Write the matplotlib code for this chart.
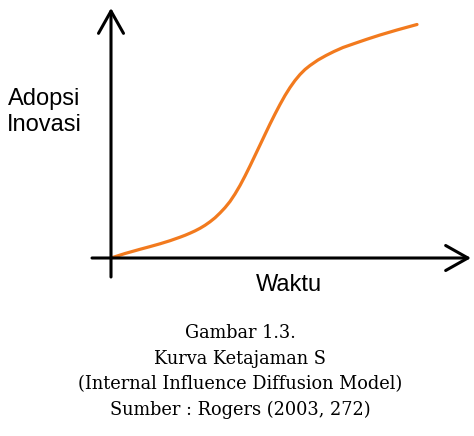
import matplotlib
matplotlib.use("Agg")
import matplotlib.pyplot as plt

# S-curve data (time, adoption %)
time = [0.0, 0.467, 0.967, 1.3, 1.633, 1.967, 2.3, 2.467, 2.633, 2.8, 2.967, 3.133, 3.3,
        3.467, 3.633, 3.8, 3.967, 4.133, 4.3, 4.467, 4.633, 4.8, 4.967, 5.133, 5.3,
        5.467, 5.633, 5.8, 5.967, 6.133, 6.3, 6.467, 6.633, 6.9, 7.167, 7.433, 7.733,
        8.133, 8.533, 8.967, 9.533, 10.2]
adoption = [0.0, 1.92, 3.72, 4.87, 6.07, 7.39, 8.89, 9.70, 10.60, 11.58, 12.69, 13.97,
            15.47, 17.18, 19.23, 21.50, 24.15, 27.35, 30.98, 35.04, 39.32, 43.80, 48.29,
            52.78, 57.26, 61.54, 65.60, 69.44, 72.86, 75.85, 78.42, 80.56, 82.26, 84.62,
            86.54, 88.25, 89.96, 91.75, 93.50, 95.30, 97.44, 99.79]

xlabel = "Waktu"
ylabel = "Adopsi\nInovasi"
caption = ["Gambar 1.3.", "Kurva Ketajaman S",
           "(Internal Influence Diffusion Model)", "Sumber : Rogers (2003, 272)"]

W, H = 474, 436
fig = plt.figure(figsize=(W / 100, H / 100), dpi=100)
ax = fig.add_axes([0, 0, 1, 1])
sx, sy = 30.0, 2.34
x0, y0 = 111, 258
ax.set_xlim(-x0 / sx, (W - x0) / sx)
ax.set_ylim((y0 - H) / sy, y0 / sy)
ax.axis("off")

ax.plot(time, adoption, color="#F27A1E", lw=2.3, solid_capstyle="round",
        solid_joinstyle="round", zorder=3)

arrow_kw = dict(arrowstyle="->,head_length=0.8,head_width=0.45", lw=2.2,
                color="black", mutation_scale=20, shrinkA=0, shrinkB=0)
# vertical axis
ax.annotate("", xy=(0, (y0 - 8) / sy), xytext=(0, (y0 - 277) / sy), arrowprops=arrow_kw)
# horizontal axis
ax.annotate("", xy=((471 - x0) / sx, 0), xytext=((92 - x0) / sx, 0), arrowprops=arrow_kw)

sans = ["Liberation Sans", "DejaVu Sans"]
ax.text(-(x0 - 44) / sx, (y0 - 112) / sy, ylabel, ha="center", va="center",
        fontsize=17, family=sans, linespacing=1.2)
ax.text((289 - x0) / sx, (y0 - 285) / sy, xlabel, ha="center", va="center",
        fontsize=17, family=sans)

serif = ["DejaVu Serif"]
baselines = [338, 363.5, 389, 414.5]
for line, b in zip(caption, baselines):
    fig.text(240 / W, 1 - b / H, line, ha="center", va="baseline",
             fontsize=12.8, family=serif)

fig.savefig("out.png", dpi=100)
